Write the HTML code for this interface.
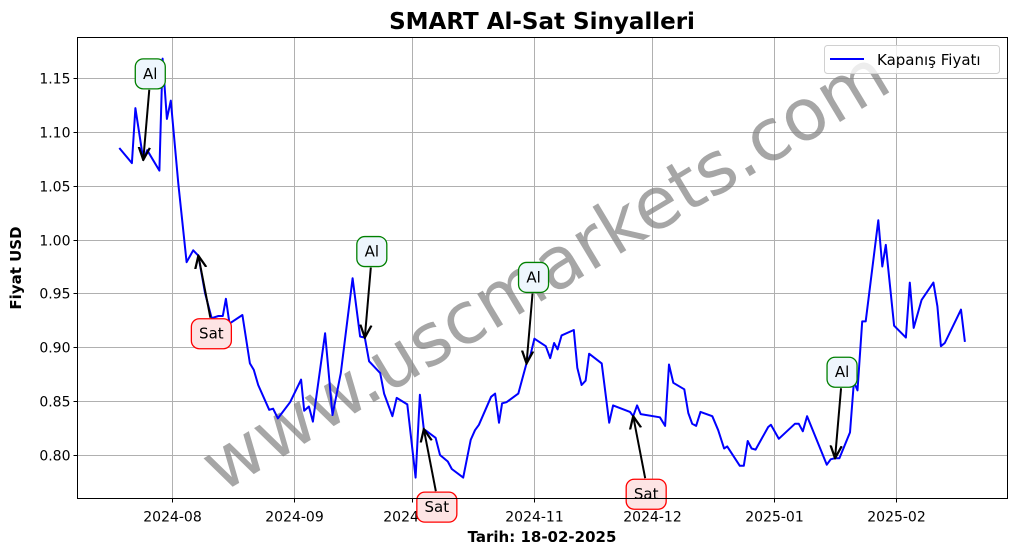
<!DOCTYPE html>
<html><head><meta charset="utf-8"><style>
html,body{margin:0;padding:0;background:#fff;}
svg{display:block;font-family:"DejaVu Sans","Liberation Sans",sans-serif;}
</style></head><body>
<svg id="chart" width="1017" height="554" viewBox="0 0 1017 554"></svg>
<script>
// days since 2024-08-01
const days=[-13.4,-10.2,-9.3,-7.3,-6.3,-3.2,-2.4,-1.3,-0.3,1.6,3.7,5.4,6.7,8.4,10.1,11.8,12.9,13.7,14.6,17.9,19.8,20.8,21.9,24.7,25.7,26.9,30.0,32.8,33.6,34.8,35.8,38.9,40.8,42.9,45.9,47.8,49.0,50.1,52.9,53.9,56.0,57.1,59.8,61.9,63.0,64.0,67.0,68.1,70.1,71.1,74.0,75.9,77.0,78.0,81.1,82.1,83.1,83.9,85.0,88.0,90.1,91.1,92.1,95.0,96.1,97.1,98.0,99.0,102.1,103.0,104.1,105.1,106.0,109.2,111.1,112.1,116.4,117.2,118.2,119.1,124.0,125.3,126.3,127.4,130.2,131.2,132.2,133.2,134.3,137.3,138.8,140.3,141.1,144.3,145.3,146.3,147.3,148.3,151.5,152.2,154.2,158.3,159.3,160.3,161.4,166.4,167.4,168.5,169.6,172.3,173.3,174.2,175.4,176.3,179.5,180.5,181.4,183.5,186.5,187.5,188.5,190.5,193.5,194.5,195.4,196.4,200.5,201.5];
const prices=[1.085,1.071,1.122,1.074,1.083,1.064,1.168,1.112,1.129,1.052,0.979,0.990,0.985,0.950,0.927,0.929,0.929,0.945,0.922,0.930,0.885,0.879,0.865,0.842,0.843,0.834,0.849,0.870,0.841,0.845,0.831,0.913,0.837,0.876,0.964,0.910,0.909,0.887,0.876,0.857,0.836,0.853,0.847,0.779,0.856,0.824,0.816,0.800,0.794,0.787,0.779,0.814,0.823,0.828,0.854,0.857,0.830,0.848,0.849,0.857,0.885,0.893,0.908,0.901,0.890,0.904,0.898,0.911,0.916,0.881,0.865,0.869,0.894,0.885,0.830,0.846,0.840,0.836,0.846,0.838,0.835,0.827,0.884,0.867,0.861,0.839,0.829,0.827,0.840,0.836,0.823,0.806,0.808,0.790,0.790,0.813,0.806,0.805,0.826,0.828,0.815,0.829,0.829,0.822,0.836,0.791,0.796,0.797,0.797,0.821,0.868,0.860,0.924,0.924,1.018,0.975,0.995,0.920,0.909,0.960,0.918,0.944,0.960,0.938,0.901,0.904,0.935,0.905];
const signalIdx=[3,12,36,45,60,77,107];
const signalType=["Al","Sat","Al","Sat","Al","Sat","Al"];
const yTicks=[0.80,0.85,0.90,0.95,1.00,1.05,1.10,1.15];
const xTickDays=[0,31,61,92,122,153,184];
const xTickLabels=["2024-08","2024-09","2024-10","2024-11","2024-12","2025-01","2025-02"];

const L=77.5,R=1007.5,T=37.5,B=498.5;
const X=d=>172+d*3.935;
const Y=v=>455-(v-0.80)*1077.2;
const NS="http://www.w3.org/2000/svg";
const svg=document.getElementById('chart');
function mk(tag,attrs,parent){const e=document.createElementNS(NS,tag);for(const k in attrs)e.setAttribute(k,attrs[k]);(parent||svg).appendChild(e);return e;}

const grid=mk('g',{});


yTicks.forEach((v,i)=>{const y=Math.round(Y(v))+0.5;
  mk('line',{x1:L,x2:R,y1:y,y2:y,stroke:'#b0b0b0','stroke-width':1},grid);
  mk('line',{x1:L-4,x2:L,y1:y,y2:y,stroke:'#000','stroke-width':1});
  const t=mk('text',{x:L-7,y:y+5,'text-anchor':'end','font-size':14,fill:'#000'});t.textContent=v.toFixed(2);
  
  
});
xTickDays.forEach((d,i)=>{const x=Math.round(X(d))+0.5;
  mk('line',{x1:x,x2:x,y1:T,y2:B,stroke:'#b0b0b0','stroke-width':1},grid);
  mk('line',{x1:x,x2:x,y1:B,y2:B+4,stroke:'#000','stroke-width':1});
  const t=mk('text',{x:x,y:B+23,'text-anchor':'middle','font-size':14,fill:'#000'});t.textContent=xTickLabels[i];
  
  
});

const wm=mk('text',{x:545,y:295,'text-anchor':'middle','font-size':72,fill:'#808080','fill-opacity':0.7,transform:'rotate(-31 545 270)'});
wm.textContent='www.uscmarkets.com';



const pts=days.map((d,i)=>X(d).toFixed(1)+','+Y(prices[i]).toFixed(1)).join(' ');
const line=mk('polyline',{points:pts,fill:'none',stroke:'#0000ff','stroke-width':2,'stroke-linejoin':'round'});



mk('defs',{}).innerHTML='<marker id="ah" viewBox="0 0 10 10" refX="9" refY="5" markerWidth="7" markerHeight="7" orient="auto-start-reverse"><path d="M0,1 L9,5 L0,9" fill="none" stroke="#000" stroke-width="1.6"/></marker>';
signalIdx.forEach((idx,k)=>{
  const px=X(days[idx]),py=Y(prices[idx]);
  const isAl=signalType[k]==='Al';
  const bx=px+(isAl?7:13), by=py+(isAl?-86:78);
  const g=mk('g',{});
  
  
  const sy=by+(isAl?16:-16);
  mk('line',{x1:bx-1,y1:sy,x2:px,y2:py,stroke:'#000','stroke-width':2,'marker-end':'url(#ah)'},g);
  const w=isAl?30:40;
  mk('rect',{x:bx-w/2,y:by-15,width:w,height:30,rx:8,fill:isAl?'#eef6fd':'#fde4e4',stroke:isAl?'#008000':'#ff0000','stroke-width':1.3},g);
  const t=mk('text',{x:bx,y:by+5,'text-anchor':'middle','font-size':15,fill:'#000'},g);t.textContent=signalType[k];
});

const fr=mk('rect',{x:L,y:T,width:R-L,height:B-T,fill:'none',stroke:'#000','stroke-width':1});



const lg=mk('g',{});


mk('rect',{x:824.5,y:45.5,width:175,height:28,rx:3,fill:'#fff','fill-opacity':0.8,stroke:'#d0d0d0'},lg);
mk('line',{x1:830,x2:864,y1:59,y2:59,stroke:'#0000ff','stroke-width':2},lg);
const lt=mk('text',{x:877,y:65,'font-size':15,fill:'#000'},lg);lt.textContent='Kapanış Fiyatı';

const tt=mk('text',{x:542,y:29,'text-anchor':'middle','font-size':23,'font-weight':'bold',fill:'#000'});tt.textContent='SMART Al-Sat Sinyalleri';


const xl=mk('text',{x:542,y:542,'text-anchor':'middle','font-size':15,'font-weight':'bold',fill:'#000'});xl.textContent='Tarih: 18-02-2025';


const yl=mk('text',{x:21,y:268,'text-anchor':'middle','font-size':15,'font-weight':'bold',fill:'#000',transform:'rotate(-90 21 268)'});yl.textContent='Fiyat USD';


</script>
</body></html>
